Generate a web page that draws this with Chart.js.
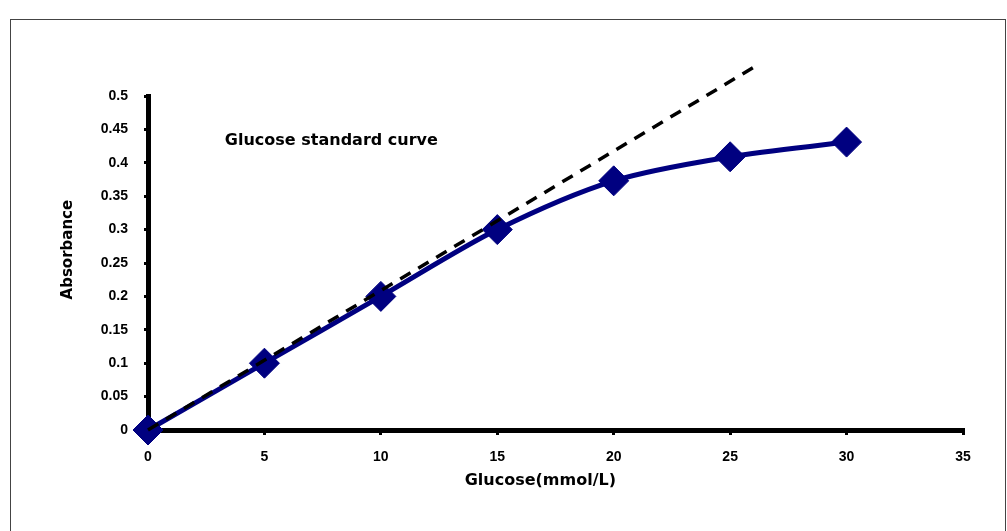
<!DOCTYPE html>
<html>
<head>
<meta charset="utf-8">
<script src="https://cdn.jsdelivr.net/npm/chart.js@4.4.1/dist/chart.umd.min.js"></script>
<style>
  body { margin: 0; background: #fff; }
  #wrap { position: relative; width: 1007px; height: 531px; overflow: hidden; }
  #frame { position: absolute; left: 10px; top: 19px; width: 994px; height: 600px; border: 1px solid #444; }
  canvas { position: absolute; left: 0; top: 0; }
</style>
</head>
<body>
<div id="wrap">
  <div id="frame"></div>
  <canvas id="curve" width="1007" height="531"></canvas>
</div>
<script>
// Glucose standard curve data
const glucose = [0, 5, 10, 15, 20, 25, 30];
const absorbance = [0, 0.1, 0.2, 0.3, 0.373, 0.409, 0.431];

// dashed linear trend, start and end
const trendX = [0, 26.3];
const trendY = [0, 0.549];

const xTicks = [0, 5, 10, 15, 20, 25, 30, 35];
const yTicks = [0, 0.05, 0.1, 0.15, 0.2, 0.25, 0.3, 0.35, 0.4, 0.45, 0.5];
const yTickLabels = ['0', '0.05', '0.1', '0.15', '0.2', '0.25', '0.3', '0.35', '0.4', '0.45', '0.5'];

const noteText = 'Glucose standard curve';
const xTitle = 'Glucose(mmol/L)';
const yTitle = 'Absorbance';

const toPoints = (xs, ys) => xs.map((v, i) => ({x: v, y: ys[i]}));

// texts drawn on top (note + axis titles)
const textPlugin = {
    id: 'texts',
    afterDraw(chart) {
        const {ctx, chartArea} = chart;
        const x = chart.scales.x, y = chart.scales.y;
        ctx.save();
        ctx.fillStyle = '#000';
        ctx.textBaseline = 'middle';

        ctx.font = 'bold 16px "DejaVu Sans"';
        ctx.textAlign = 'left';
        ctx.fillText(noteText, x.getPixelForValue(3.3), y.getPixelForValue(0.433));

        ctx.textAlign = 'center';
        ctx.fillText(xTitle, x.getPixelForValue(16.85), chartArea.bottom + 51);

        ctx.font = 'bold 15px "DejaVu Sans"';
        ctx.translate(chartArea.left - 80, y.getPixelForValue(0.27));
        ctx.rotate(-Math.PI / 2);
        ctx.fillText(yTitle, 0, 0);
        ctx.restore();
    }
};

new Chart(document.getElementById('curve'), {
    type: 'scatter',
    data: {
        datasets: [
            {
                label: 'trend',
                data: toPoints(trendX, trendY),
                showLine: true,
                borderColor: '#000',
                borderWidth: 3.5,
                borderDash: [12, 9],
                pointRadius: 0,
                clip: false,
                order: 0
            },
            {
                label: 'Absorbance',
                data: toPoints(glucose, absorbance),
                showLine: true,
                borderColor: '#000080',
                borderWidth: 5,
                tension: 0.3,
                pointStyle: 'rectRot',
                pointRadius: 15,
                pointBackgroundColor: '#000080',
                pointBorderColor: '#000080',
                pointBorderWidth: 1,
                clip: false,
                order: 1
            }
        ]
    },
    options: {
        responsive: false,
        animation: false,
        layout: {padding: {left: 0, top: 96, right: 44, bottom: 31}},
        plugins: {
            legend: {display: false},
            tooltip: {enabled: false}
        },
        scales: {
            x: {
                type: 'linear',
                min: 0,
                max: 35,
                afterBuildTicks: (scale) => { scale.ticks = xTicks.map(v => ({value: v})); },
                afterFit: (scale) => { scale.height = 70; },
                border: {color: '#000', width: 5},
                grid: {drawOnChartArea: false, tickLength: 5, lineWidth: 3, color: '#000'},
                ticks: {
                    color: '#000',
                    padding: 14,
                    font: {family: 'Liberation Sans', weight: 'bold', size: 14}
                }
            },
            y: {
                min: 0,
                max: 0.5,
                afterBuildTicks: (scale) => { scale.ticks = yTicks.map(v => ({value: v})); },
                afterFit: (scale) => { scale.width = 148; },
                border: {color: '#000', width: 5},
                grid: {drawOnChartArea: false, tickLength: 4, lineWidth: 3, color: '#000'},
                ticks: {
                    color: '#000',
                    padding: 16,
                    font: {family: 'Liberation Sans', weight: 'bold', size: 14},
                    callback: (v, i) => yTickLabels[i]
                }
            }
        }
    },
    plugins: [textPlugin]
});
</script>
</body>
</html>
